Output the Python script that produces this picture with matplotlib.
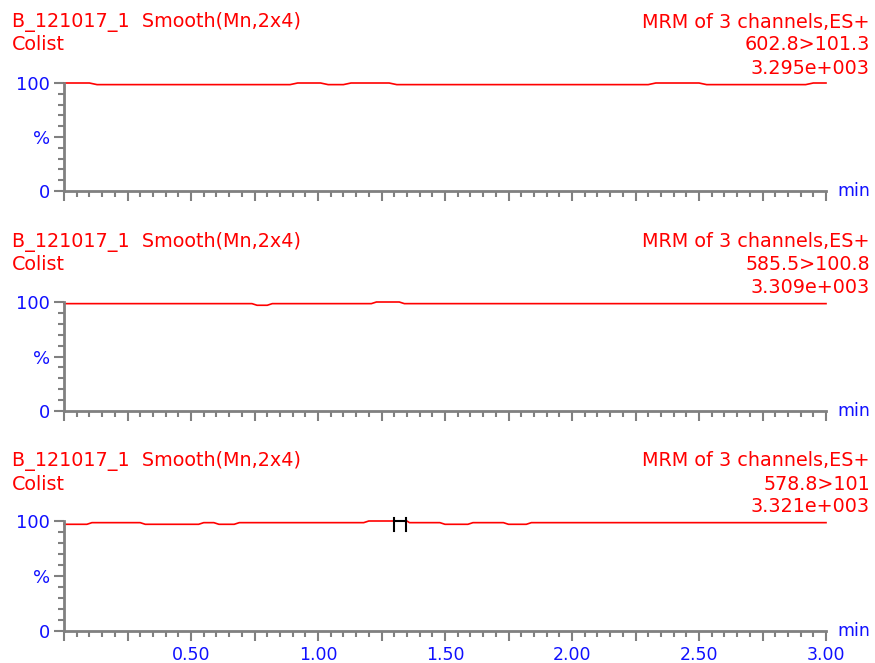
import numpy as np
import matplotlib.pyplot as plt
from matplotlib.ticker import MultipleLocator, FixedLocator

plt.rcParams['font.family'] = ['DejaVu Sans']

# dane chromatogramow (czas [min], intensywnosc [%])
t_top = [0, 0.10, 0.13, 0.89, 0.92, 1.01, 1.04, 1.10, 1.13, 1.28, 1.31, 2.30, 2.33, 2.50, 2.53, 2.92, 2.95, 3.0]
v_top = [100, 100, 98.5, 98.5, 100, 100, 98.5, 98.5, 100, 100, 98.5, 98.5, 100, 100, 98.5, 98.5, 100, 100]

t_mid = [0, 0.74, 0.76, 0.80, 0.82, 1.21, 1.23, 1.32, 1.34, 3.0]
v_mid = [98.5, 98.5, 97, 97, 98.5, 98.5, 100, 100, 98.5, 98.5]

t_bot = [0, 0.09, 0.11, 0.30, 0.32, 0.53, 0.55, 0.59, 0.61, 0.67, 0.69, 1.18, 1.20, 1.35, 1.36,
         1.48, 1.50, 1.59, 1.61, 1.73, 1.75, 1.82, 1.84, 3.0]
v_bot = [97, 97, 98.5, 98.5, 97, 97, 98.5, 98.5, 97, 97, 98.5, 98.5, 100, 100, 98.5,
         98.5, 97, 97, 98.5, 98.5, 97, 97, 98.5, 98.5]

channels = ["602.8>101.3", "585.5>100.8", "578.8>101"]
intensities = ["3.295e+003", "3.309e+003", "3.321e+003"]
header_left = "B_121017_1  Smooth(Mn,2x4)"
compound = "Colist"
header_right = "MRM of 3 channels,ES+"

# znacznik integracji piku (tylko dolny wykres)
peak_start, peak_end = 1.30, 1.345

x_labels = [0.5, 1.0, 1.5, 2.0, 2.5, 3.0]

W, H = 875, 663
red = "#ff0000"
blue = "#1010ff"
grey = "#808080"

fig = plt.figure(figsize=(W / 100, H / 100), dpi=100)

series = [(t_top, v_top), (t_mid, v_mid), (t_bot, v_bot)]
y100 = [83, 302, 521]   # piksele osi dla 100%
y0 = [191, 411, 631]    # piksele osi dla 0%
x_left, x_right = 64, 826
major = np.arange(0, 3.001, 0.25)

for i, (t, v) in enumerate(series):
    ax = fig.add_axes([x_left / W, 1 - y0[i] / H, (x_right - x_left) / W, (y0[i] - y100[i]) / H])
    ax.plot(t, v, color=red, lw=1.2, clip_on=False)
    ax.set_xlim(0, 3.0)
    ax.set_ylim(0, 100)

    for s in ['top', 'right']:
        ax.spines[s].set_visible(False)
    for s in ['left', 'bottom']:
        ax.spines[s].set_color(grey)
        ax.spines[s].set_linewidth(2)

    ax.xaxis.set_major_locator(FixedLocator(major))
    ax.xaxis.set_minor_locator(MultipleLocator(0.05))
    ax.yaxis.set_major_locator(FixedLocator([0, 50, 100]))
    ax.yaxis.set_minor_locator(MultipleLocator(10))
    ax.tick_params(which='major', length=7, width=1.5, color=grey)
    ax.tick_params(which='minor', length=4, width=1.5, color=grey)
    ax.tick_params(axis='y', labelcolor=blue, labelsize=13, pad=3)
    ax.tick_params(axis='x', labelcolor=blue, labelsize=12.5, pad=4)
    ax.set_yticklabels(["0", "%", "100"])

    if i == 2:
        ax.set_xticklabels(["%.2f" % m if any(abs(m - x) < 1e-6 for x in x_labels) else "" for m in major])
        ax.plot([peak_start, peak_start], [91, 103], color='black', lw=1.5, clip_on=False)
        ax.plot([peak_end, peak_end], [91, 103], color='black', lw=1.5, clip_on=False)
        ax.plot([peak_start, peak_end], [100, 100], color='black', lw=1.5, clip_on=False)
    else:
        ax.set_xticklabels([])

    ax.text(1.015, 0.0, "min", transform=ax.transAxes, color=blue, fontsize=12.5, va='center', ha='left')

    off = i * 219.5
    fs = 13.8
    fig.text(12 / W, 1 - (22 + off) / H, header_left, color=red, fontsize=fs, va='center', ha='left')
    fig.text(12 / W, 1 - (45 + off) / H, compound, color=red, fontsize=fs, va='center', ha='left')
    fig.text(870 / W, 1 - (22 + off) / H, header_right, color=red, fontsize=fs, va='center', ha='right')
    fig.text(870 / W, 1 - (45 + off) / H, channels[i], color=red, fontsize=fs, va='center', ha='right')
    fig.text(870 / W, 1 - (68 + off) / H, intensities[i], color=red, fontsize=fs, va='center', ha='right')

fig.savefig("out.png", dpi=100)
